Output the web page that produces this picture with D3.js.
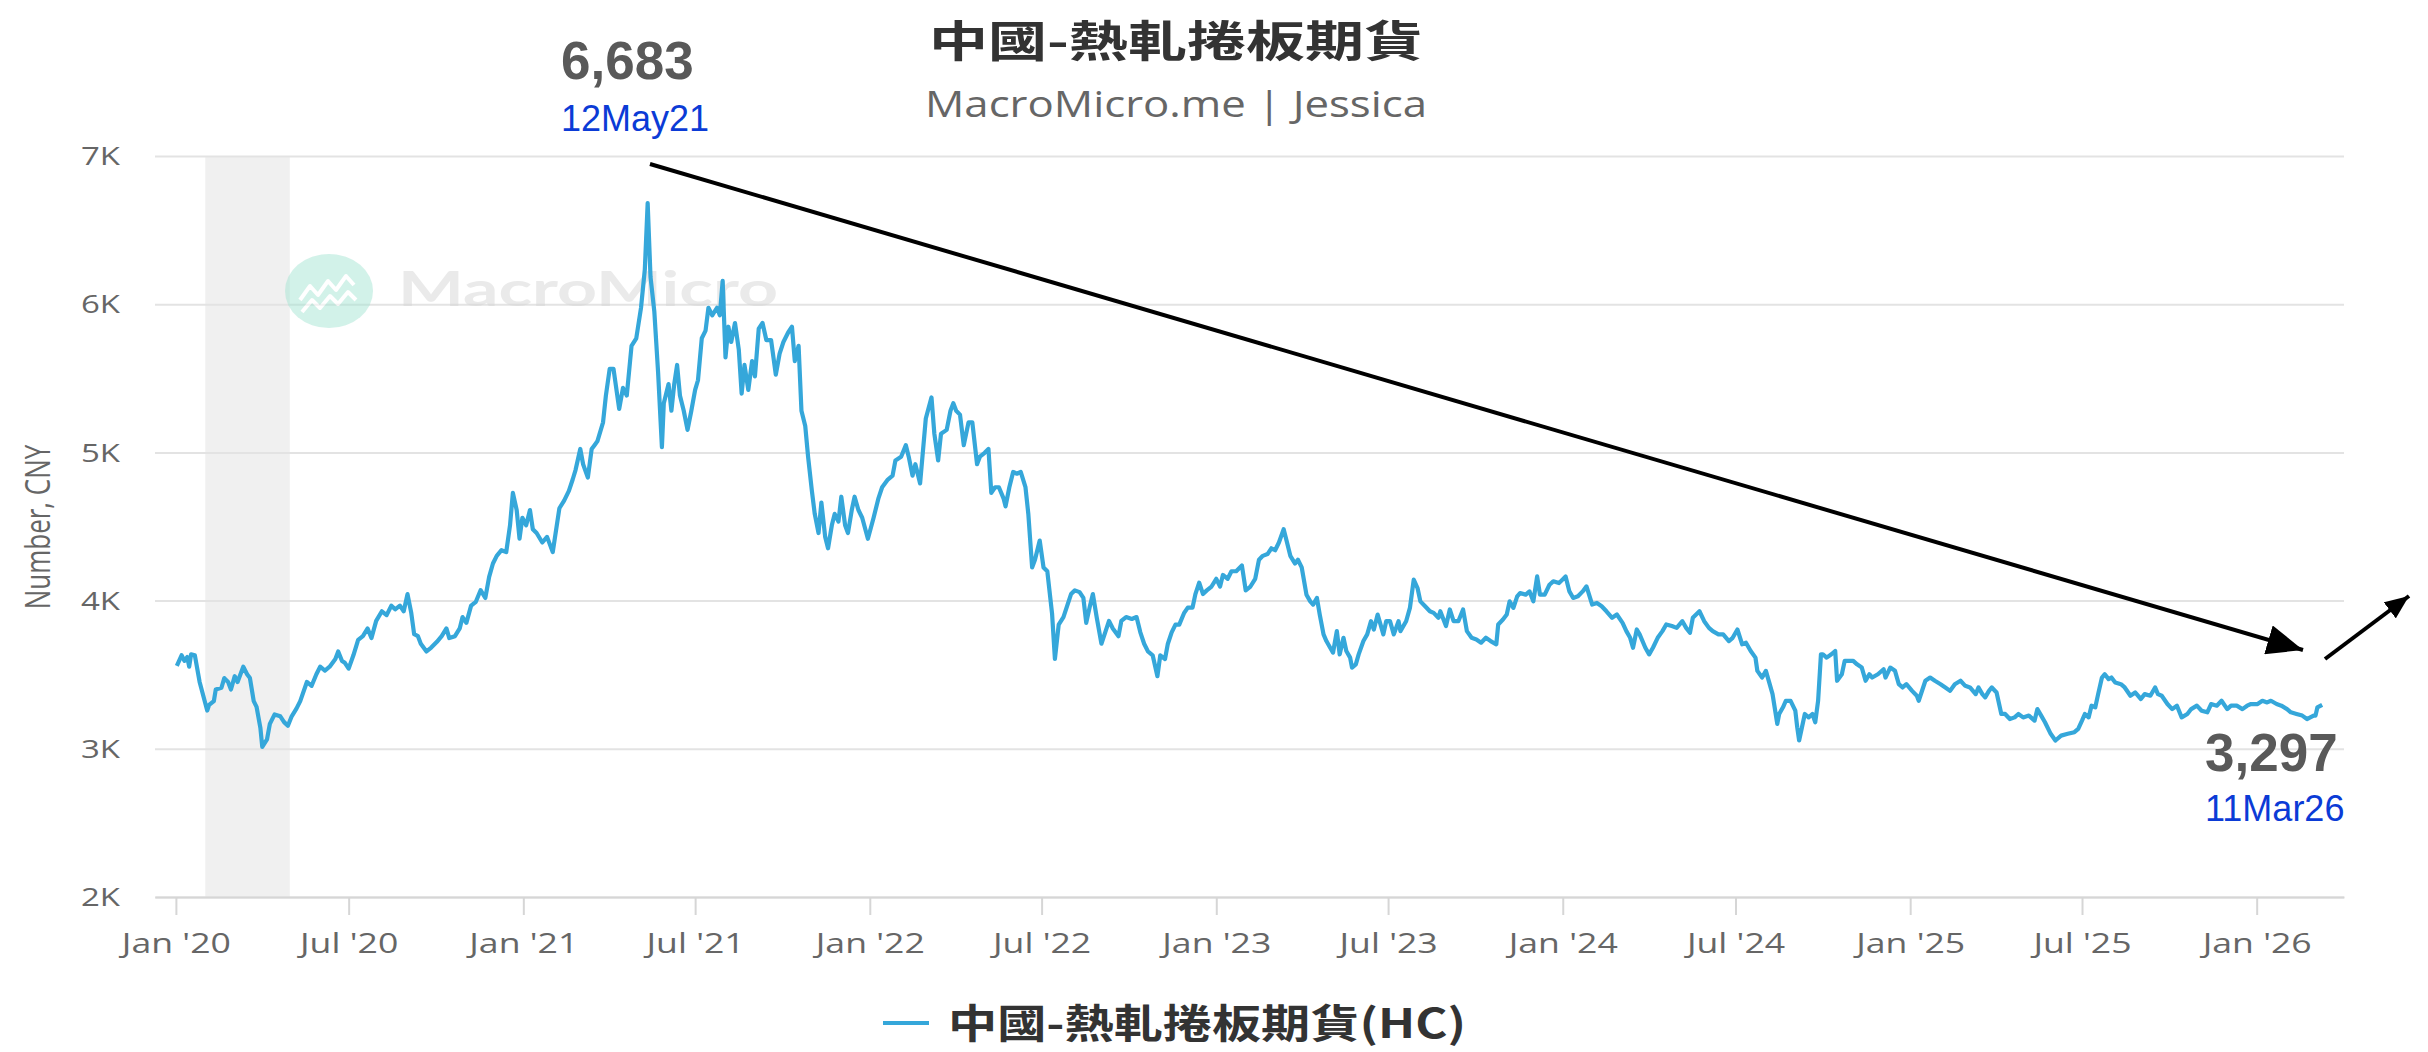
<!DOCTYPE html>
<html>
<head>
<meta charset="utf-8">
<script src="https://cdn.jsdelivr.net/npm/d3@7"></script>
<style>
	html, body { margin: 0; padding: 0; background: #fff; }
	svg { display: block; }
</style>
</head>
<body>
<svg id="chart" width="2428" height="1052"></svg>
<script>
"use strict";

/* global d3 */

// 中國-熱軋捲板期貨 (HC), CNY - dates and closing values
var dates = [
	'2020-01-02','2020-01-07','2020-01-10','2020-01-13','2020-01-15','2020-01-17','2020-01-21','2020-01-26',
	'2020-02-03','2020-02-05','2020-02-10','2020-02-12','2020-02-18','2020-02-21','2020-02-25','2020-02-28',
	'2020-03-03','2020-03-06','2020-03-12','2020-03-16','2020-03-19','2020-03-23','2020-03-26','2020-03-30',
	'2020-04-01','2020-04-06','2020-04-09','2020-04-14','2020-04-20','2020-04-24','2020-04-28','2020-05-02',
	'2020-05-07','2020-05-11','2020-05-18','2020-05-23','2020-05-28','2020-06-01','2020-06-06','2020-06-11',
	'2020-06-17','2020-06-20','2020-06-24','2020-06-27','2020-07-01','2020-07-06','2020-07-11','2020-07-16',
	'2020-07-21','2020-07-25','2020-07-30','2020-08-05','2020-08-10','2020-08-15','2020-08-19','2020-08-24',
	'2020-08-28','2020-09-01','2020-09-05','2020-09-08','2020-09-12','2020-09-15','2020-09-21','2020-09-26',
	'2020-10-02','2020-10-07','2020-10-12','2020-10-15','2020-10-21','2020-10-26','2020-10-29','2020-11-02',
	'2020-11-07','2020-11-12','2020-11-17','2020-11-22','2020-11-26','2020-11-30','2020-12-04','2020-12-09',
	'2020-12-14','2020-12-18','2020-12-21','2020-12-25','2020-12-28','2020-12-31',
	'2021-01-04','2021-01-08','2021-01-11','2021-01-15','2021-01-21','2021-01-26','2021-02-01','2021-02-08',
	'2021-02-13','2021-02-18','2021-02-22','2021-02-25','2021-03-02','2021-03-05','2021-03-10','2021-03-14',
	'2021-03-17','2021-03-20','2021-03-26','2021-03-29','2021-04-02','2021-04-06','2021-04-12','2021-04-16',
	'2021-04-20','2021-04-25','2021-04-30','2021-05-05','2021-05-09','2021-05-12','2021-05-15','2021-05-19',
	'2021-05-23','2021-05-27','2021-05-29','2021-06-03','2021-06-06','2021-06-09','2021-06-12','2021-06-15',
	'2021-06-19','2021-06-23','2021-06-27','2021-07-01','2021-07-04','2021-07-08','2021-07-12','2021-07-15',
	'2021-07-19','2021-07-24','2021-07-27','2021-07-30','2021-08-02','2021-08-05','2021-08-08','2021-08-12',
	'2021-08-16','2021-08-19','2021-08-22','2021-08-26','2021-08-30','2021-09-02','2021-09-06','2021-09-10',
	'2021-09-14','2021-09-19','2021-09-24','2021-09-28','2021-10-02','2021-10-07','2021-10-11','2021-10-14',
	'2021-10-18','2021-10-21','2021-10-25','2021-10-28','2021-11-01','2021-11-04','2021-11-08','2021-11-11',
	'2021-11-15','2021-11-18','2021-11-22','2021-11-25','2021-11-29','2021-12-02','2021-12-06','2021-12-09',
	'2021-12-13','2021-12-16','2021-12-20','2021-12-24','2021-12-30',
	'2022-01-05','2022-01-10','2022-01-14','2022-01-20','2022-01-25','2022-01-28','2022-02-03','2022-02-08',
	'2022-02-11','2022-02-15','2022-02-18','2022-02-23','2022-03-01','2022-03-07','2022-03-10','2022-03-14',
	'2022-03-17','2022-03-23','2022-03-27','2022-03-30','2022-04-02','2022-04-06','2022-04-10','2022-04-15',
	'2022-04-19','2022-04-24','2022-04-27','2022-05-02','2022-05-06','2022-05-09','2022-05-13','2022-05-17',
	'2022-05-22','2022-05-24','2022-05-28','2022-06-01','2022-06-05','2022-06-09','2022-06-14','2022-06-17',
	'2022-06-21','2022-06-24','2022-06-29','2022-07-03','2022-07-07','2022-07-12','2022-07-15','2022-07-19',
	'2022-07-24','2022-07-28','2022-08-01','2022-08-05','2022-08-10','2022-08-14','2022-08-17','2022-08-21',
	'2022-08-24','2022-08-28','2022-09-02','2022-09-06','2022-09-10','2022-09-14','2022-09-20','2022-09-23',
	'2022-09-28','2022-10-04','2022-10-09','2022-10-13','2022-10-17','2022-10-21','2022-10-26','2022-10-31',
	'2022-11-03','2022-11-08','2022-11-11','2022-11-15','2022-11-19','2022-11-23','2022-11-28','2022-12-02',
	'2022-12-07','2022-12-10','2022-12-14','2022-12-18','2022-12-22','2022-12-27',
	'2023-01-01','2023-01-05','2023-01-08','2023-01-13','2023-01-17','2023-01-22','2023-01-28','2023-02-01',
	'2023-02-06','2023-02-11','2023-02-15','2023-02-19','2023-02-24','2023-02-28','2023-03-04','2023-03-08',
	'2023-03-13','2023-03-16','2023-03-20','2023-03-25','2023-03-28','2023-04-01','2023-04-06','2023-04-10',
	'2023-04-13','2023-04-17','2023-04-20','2023-04-24','2023-04-27','2023-05-01','2023-05-04','2023-05-08',
	'2023-05-11','2023-05-15','2023-05-18','2023-05-22','2023-05-24','2023-05-28','2023-05-31','2023-06-05',
	'2023-06-09','2023-06-13','2023-06-16','2023-06-20','2023-06-26','2023-06-29','2023-07-03','2023-07-07',
	'2023-07-12','2023-07-14','2023-07-20','2023-07-24','2023-07-28','2023-08-01','2023-08-04','2023-08-09',
	'2023-08-14','2023-08-18','2023-08-23','2023-08-25','2023-08-31','2023-09-04','2023-09-08','2023-09-13',
	'2023-09-18','2023-09-22','2023-09-27','2023-10-02','2023-10-07','2023-10-12','2023-10-17','2023-10-23',
	'2023-10-25','2023-10-30','2023-11-03','2023-11-06','2023-11-10','2023-11-14','2023-11-17','2023-11-23',
	'2023-11-27','2023-12-01','2023-12-05','2023-12-08','2023-12-13','2023-12-18','2023-12-22','2023-12-28',
	'2024-01-04','2024-01-08','2024-01-12','2024-01-17','2024-01-22','2024-01-26','2024-02-01','2024-02-06',
	'2024-02-11','2024-02-16','2024-02-22','2024-02-27','2024-03-04','2024-03-08','2024-03-12','2024-03-15',
	'2024-03-19','2024-03-22','2024-03-28','2024-04-01','2024-04-05','2024-04-10','2024-04-15','2024-04-19',
	'2024-04-25','2024-04-30','2024-05-06','2024-05-10','2024-05-14','2024-05-17','2024-05-24','2024-05-29',
	'2024-06-03','2024-06-07','2024-06-13','2024-06-18','2024-06-24','2024-06-28','2024-07-03','2024-07-08',
	'2024-07-12','2024-07-17','2024-07-22','2024-07-24','2024-07-29','2024-08-02','2024-08-06','2024-08-09',
	'2024-08-14','2024-08-16','2024-08-20','2024-08-23','2024-08-28','2024-09-02','2024-09-04','2024-09-06',
	'2024-09-09','2024-09-12','2024-09-16','2024-09-20','2024-09-23','2024-09-26','2024-09-29','2024-10-01',
	'2024-10-05','2024-10-10','2024-10-14','2024-10-16','2024-10-21','2024-10-24','2024-10-28','2024-11-02',
	'2024-11-06','2024-11-11','2024-11-15','2024-11-19','2024-11-22','2024-11-28','2024-12-04','2024-12-06',
	'2024-12-11','2024-12-16','2024-12-20','2024-12-24','2024-12-28',
	'2025-01-03','2025-01-08','2025-01-10','2025-01-17','2025-01-22','2025-01-27','2025-02-02','2025-02-07',
	'2025-02-12','2025-02-17','2025-02-23','2025-02-28','2025-03-05','2025-03-11','2025-03-14','2025-03-18',
	'2025-03-21','2025-03-25','2025-03-28','2025-04-02','2025-04-07','2025-04-11','2025-04-16','2025-04-21',
	'2025-04-25','2025-04-30','2025-05-06','2025-05-12','2025-05-15','2025-05-19','2025-05-23','2025-05-29',
	'2025-06-03','2025-06-09','2025-06-16','2025-06-23','2025-06-27','2025-07-01','2025-07-04','2025-07-08',
	'2025-07-11','2025-07-15','2025-07-18','2025-07-22','2025-07-25','2025-07-29','2025-08-01','2025-08-05',
	'2025-08-11','2025-08-15','2025-08-21','2025-08-26','2025-09-01','2025-09-05','2025-09-11','2025-09-16',
	'2025-09-19','2025-09-23','2025-09-29','2025-10-04','2025-10-09','2025-10-14','2025-10-20','2025-10-24',
	'2025-10-30','2025-11-04','2025-11-10','2025-11-14','2025-11-20','2025-11-25','2025-12-01','2025-12-05',
	'2025-12-11','2025-12-17','2025-12-22','2025-12-26',
	'2026-01-02','2026-01-07','2026-01-12','2026-01-16','2026-01-22','2026-01-27','2026-02-02','2026-02-06',
	'2026-02-12','2026-02-18','2026-02-23','2026-03-02','2026-03-04','2026-03-06','2026-03-11'
];

var hcValues = [
	3559,3631,3593,3619,3554,3637,3631,3451,
	3258,3296,3322,3400,3412,3477,3451,3400,
	3490,3451,3554,3503,3477,3322,3283,3142,
	3013,3064,3168,3232,3219,3180,3155,3219,
	3271,3322,3451,3425,3503,3554,3528,3554,
	3606,3657,3593,3580,3541,3631,3735,3760,
	3812,3747,3863,3928,3902,3966,3941,3966,
	3928,4044,3915,3773,3760,3709,3657,3683,
	3722,3760,3812,3747,3760,3812,3889,3850,
	3966,3992,4070,4018,4160,4250,4302,4340,
	4327,4508,4727,4611,4418,4559,
	4508,4611,4482,4456,4392,4430,4327,4623,
	4675,4740,4817,4881,5023,4920,4830,5023,
	5049,5075,5203,5384,5564,5564,5293,5435,
	5384,5719,5770,5976,6234,6683,6183,5951,
	5538,5036,5332,5461,5281,5461,5590,5384,
	5281,5152,5281,5422,5487,5770,5822,5976,
	5925,5976,5925,6157,5641,5848,5745,5873,
	5693,5397,5590,5422,5616,5513,5835,5873,
	5758,5758,5525,5667,5745,5809,5848,5616,
	5719,5281,5178,4971,4740,4585,4456,4662,
	4430,4353,4508,4585,4533,4701,4508,4456,
	4611,4701,4611,4559,4417,
	4559,4688,4765,4817,4843,4946,4971,5049,
	4971,4843,4920,4791,5229,5371,5126,4946,
	5126,5152,5281,5332,5281,5255,5049,5203,
	5203,4920,4971,4997,5023,4727,4765,4765,
	4688,4636,4765,4868,4856,4868,4765,4585,
	4224,4276,4405,4224,4198,3913,3606,3838,
	3889,3966,4044,4069,4057,4018,3850,3966,
	4044,3889,3709,3786,3863,3812,3760,3863,
	3889,3876,3889,3786,3709,3657,3631,3490,
	3631,3606,3709,3786,3838,3838,3915,3953,
	3953,4044,4121,4044,4069,4095,
	4147,4095,4173,4147,4198,4198,4237,4069,
	4095,4147,4276,4302,4314,4353,4340,4392,
	4482,4405,4302,4250,4276,4224,4040,3995,
	3973,4018,3906,3772,3727,3682,3649,3794,
	3637,3749,3660,3615,3548,3570,3637,3727,
	3772,3861,3805,3906,3772,3861,3861,3772,
	3861,3794,3861,3951,4141,4085,3995,3962,
	3928,3917,3884,3928,3828,3940,3861,3861,
	3940,3794,3749,3738,3716,3749,3727,3705,
	3839,3872,3906,3995,3951,4029,4051,4040,
	4062,3995,4163,4040,4040,4107,4130,4118,
	4163,4062,4018,4029,4062,4096,3973,3984,
	3962,3928,3884,3906,3850,3794,3749,3682,
	3805,3772,3682,3637,3682,3749,3794,3839,
	3828,3816,3861,3816,3783,3884,3928,3861,
	3816,3794,3772,3772,3727,3749,3805,3705,
	3716,3660,3615,3526,3481,3526,3436,3369,
	3168,3235,3280,3324,3324,3257,3145,3056,
	3145,3235,3212,3235,3179,3324,3638,3638,
	3615,3638,3660,3459,3503,3593,3593,3593,
	3570,3548,3459,3503,3481,3503,3537,3481,
	3548,3526,3436,3414,3436,
	3391,3358,3324,3459,3481,3459,3436,3414,
	3391,3436,3459,3425,3414,3369,3414,3369,
	3347,3391,3414,3380,3235,3235,3201,3212,
	3235,3212,3224,3190,3268,3224,3179,3101,
	3056,3089,3101,3112,3134,3190,3235,3212,
	3291,3280,3369,3481,3503,3470,3481,3447,
	3436,3414,3358,3380,3336,3369,3358,3414,
	3369,3358,3302,3268,3291,3212,3235,3268,
	3291,3257,3246,3302,3291,3324,3268,3291,
	3291,3268,3291,3302,
	3302,3324,3313,3324,3302,3291,3268,3246,
	3235,3224,3201,3224,3224,3280,3297
];

// Axis ticks and shaded period
var yTicks = [2000, 3000, 4000, 5000, 6000, 7000];
var xTickDates = ['2020-01-01','2020-07-01','2021-01-01','2021-07-01','2022-01-01','2022-07-01',
	'2023-01-01','2023-07-01','2024-01-01','2024-07-01','2025-01-01','2025-07-01','2026-01-01'];
var xExtent = ['2019-12-10', '2026-04-03'];
var shadedPeriod = ['2020-02-01', '2020-04-30'];

// Call-outs: the peak and the latest reading
var calloutValues = ['6,683', '3,297'];
var calloutDates = ['12May21', '11Mar26'];

var parse = d3.timeParse('%Y-%m-%d');
var series = dates.map(function(d, i) { return {date: parse(d), v: hcValues[i]}; });

// Geometry of the picture
var plot = {l: 155, r: 2344, t: 156, b: 897};
var stretch = 1.32;
var latin = "'Open Sans', 'Noto Sans', sans-serif";
var cjk = "'Noto Sans CJK TC', 'Open Sans', sans-serif";
var arial = "'Liberation Sans', Arial, sans-serif";
var lineColor = '#35a7da';

var svg = d3.select('#chart');

var x = d3.scaleTime().domain(xExtent.map(parse)).range([plot.l, plot.r]);
var y = d3.scaleLinear().domain([yTicks[0], yTicks[yTicks.length - 1]]).range([plot.b, plot.t]);

// Shaded band
svg.append('rect')
	.attr('x', x(parse(shadedPeriod[0])))
	.attr('y', plot.t)
	.attr('width', x(parse(shadedPeriod[1])) - x(parse(shadedPeriod[0])))
	.attr('height', plot.b - plot.t)
	.attr('fill', '#f0f0f0');

// Gridlines and y labels
var yAxis = svg.append('g')
	.attr('transform', 'translate(' + plot.l + ',0)')
	.call(d3.axisLeft(y).tickValues(yTicks).tickSize(-(plot.r - plot.l))
		.tickFormat(function(d) { return (d / 1000) + 'K'; }));
yAxis.select('.domain').remove();
yAxis.selectAll('.tick line').attr('stroke', '#e3e3e3').attr('stroke-width', 2);
yAxis.selectAll('.tick text')
	.attr('x', -35 / stretch).attr('dy', '0.35em')
	.attr('transform', 'scale(' + stretch + ',1)')
	.attr('font-family', latin).attr('font-size', 25).attr('fill', '#666');

// Watermark
var wm = svg.append('g').attr('opacity', 0.5);
wm.append('ellipse').attr('cx', 329).attr('cy', 291).attr('rx', 44).attr('ry', 37).attr('fill', '#a6e6d4');
wm.append('path').attr('d', 'M300,300 l10,-14 l8,9 l10,-14 l8,9 l10,-14 l8,9 M302,312 l10,-12 l8,8 l10,-12 l8,8 l10,-12 l8,8')
	.attr('fill', 'none').attr('stroke', '#fff').attr('stroke-width', 4).attr('stroke-linejoin', 'round');
wm.append('text').attr('x', 398).attr('y', 306).text('MacroMicro')
	.attr('font-family', "'Lato', sans-serif").attr('font-weight', 700).attr('font-size', 48)
	.attr('textLength', 380).attr('lengthAdjust', 'spacingAndGlyphs').attr('fill', '#d6d6d6');

// X axis
var xAxis = svg.append('g')
	.attr('transform', 'translate(0,' + plot.b + ')')
	.call(d3.axisBottom(x).tickValues(xTickDates.map(parse)).tickSize(18).tickSizeOuter(0)
		.tickFormat(d3.timeFormat("%b '%y")));
xAxis.select('.domain').attr('stroke', '#d6d6d6').attr('stroke-width', 2);
xAxis.selectAll('.tick line').attr('stroke', '#d6d6d6').attr('stroke-width', 2);
xAxis.selectAll('.tick text')
	.attr('y', 56).attr('dy', null)
	.attr('transform', 'scale(' + stretch + ',1)')
	.attr('font-family', latin).attr('font-size', 27).attr('fill', '#666');

// Y axis title
svg.append('text')
	.attr('transform', 'translate(50,527) scale(' + stretch + ',1) rotate(-90)')
	.attr('text-anchor', 'middle')
	.attr('font-family', latin).attr('font-size', 26).attr('fill', '#666')
	.text('Number, CNY');

// The series
svg.append('path').datum(series)
	.attr('fill', 'none').attr('stroke', lineColor).attr('stroke-width', 4.2)
	.attr('stroke-linejoin', 'round')
	.attr('d', d3.line().x(function(d) { return x(d.date); }).y(function(d) { return y(d.v); }));

// Title and subtitle
svg.append('text').attr('x', 929).attr('y', 57)
	.attr('font-family', cjk).attr('font-weight', 700).attr('font-size', 43).attr('fill', '#333')
	.attr('textLength', 494).attr('lengthAdjust', 'spacingAndGlyphs')
	.text('中國-熱軋捲板期貨');
svg.append('text').attr('x', 925).attr('y', 117)
	.attr('font-family', latin).attr('font-size', 36).attr('fill', '#666')
	.attr('textLength', 502).attr('lengthAdjust', 'spacingAndGlyphs')
	.text('MacroMicro.me | Jessica');

// Legend
svg.append('line').attr('x1', 883).attr('x2', 929).attr('y1', 1023).attr('y2', 1023)
	.attr('stroke', lineColor).attr('stroke-width', 4);
svg.append('text').attr('x', 948).attr('y', 1038)
	.attr('font-family', cjk).attr('font-weight', 700).attr('font-size', 40).attr('fill', '#333')
	.attr('textLength', 518).attr('lengthAdjust', 'spacingAndGlyphs')
	.text('中國-熱軋捲板期貨(HC)');

// Call-out labels
var callouts = [{x: 561, yv: 79, yd: 131}, {x: 2205, yv: 771, yd: 821}];
callouts.forEach(function(c, i) {
	svg.append('text').attr('x', c.x).attr('y', c.yv)
		.attr('font-family', arial).attr('font-weight', 700).attr('font-size', 53).attr('fill', '#595959')
		.text(calloutValues[i]);
	svg.append('text').attr('x', c.x).attr('y', c.yd)
		.attr('font-family', arial).attr('font-size', 36).attr('fill', '#0b3bd6')
		.text(calloutDates[i]);
});

// Arrows
var defs = svg.append('defs');
function arrowHead(id, len, wid) {
	defs.append('marker').attr('id', id)
		.attr('markerUnits', 'userSpaceOnUse')
		.attr('markerWidth', len).attr('markerHeight', wid)
		.attr('refX', len).attr('refY', wid / 2)
		.attr('orient', 'auto')
		.append('path').attr('d', 'M0,0 L' + len + ',' + (wid / 2) + ' L0,' + wid + ' Z').attr('fill', '#000');
}
arrowHead('headBig', 36, 30);
arrowHead('headSmall', 24, 20);

svg.append('line').attr('x1', 650).attr('y1', 164).attr('x2', 2303).attr('y2', 650)
	.attr('stroke', '#000').attr('stroke-width', 4).attr('marker-end', 'url(#headBig)');
svg.append('line').attr('x1', 2325).attr('y1', 659).attr('x2', 2409).attr('y2', 596)
	.attr('stroke', '#000').attr('stroke-width', 4).attr('marker-end', 'url(#headSmall)');
</script>
</body>
</html>
